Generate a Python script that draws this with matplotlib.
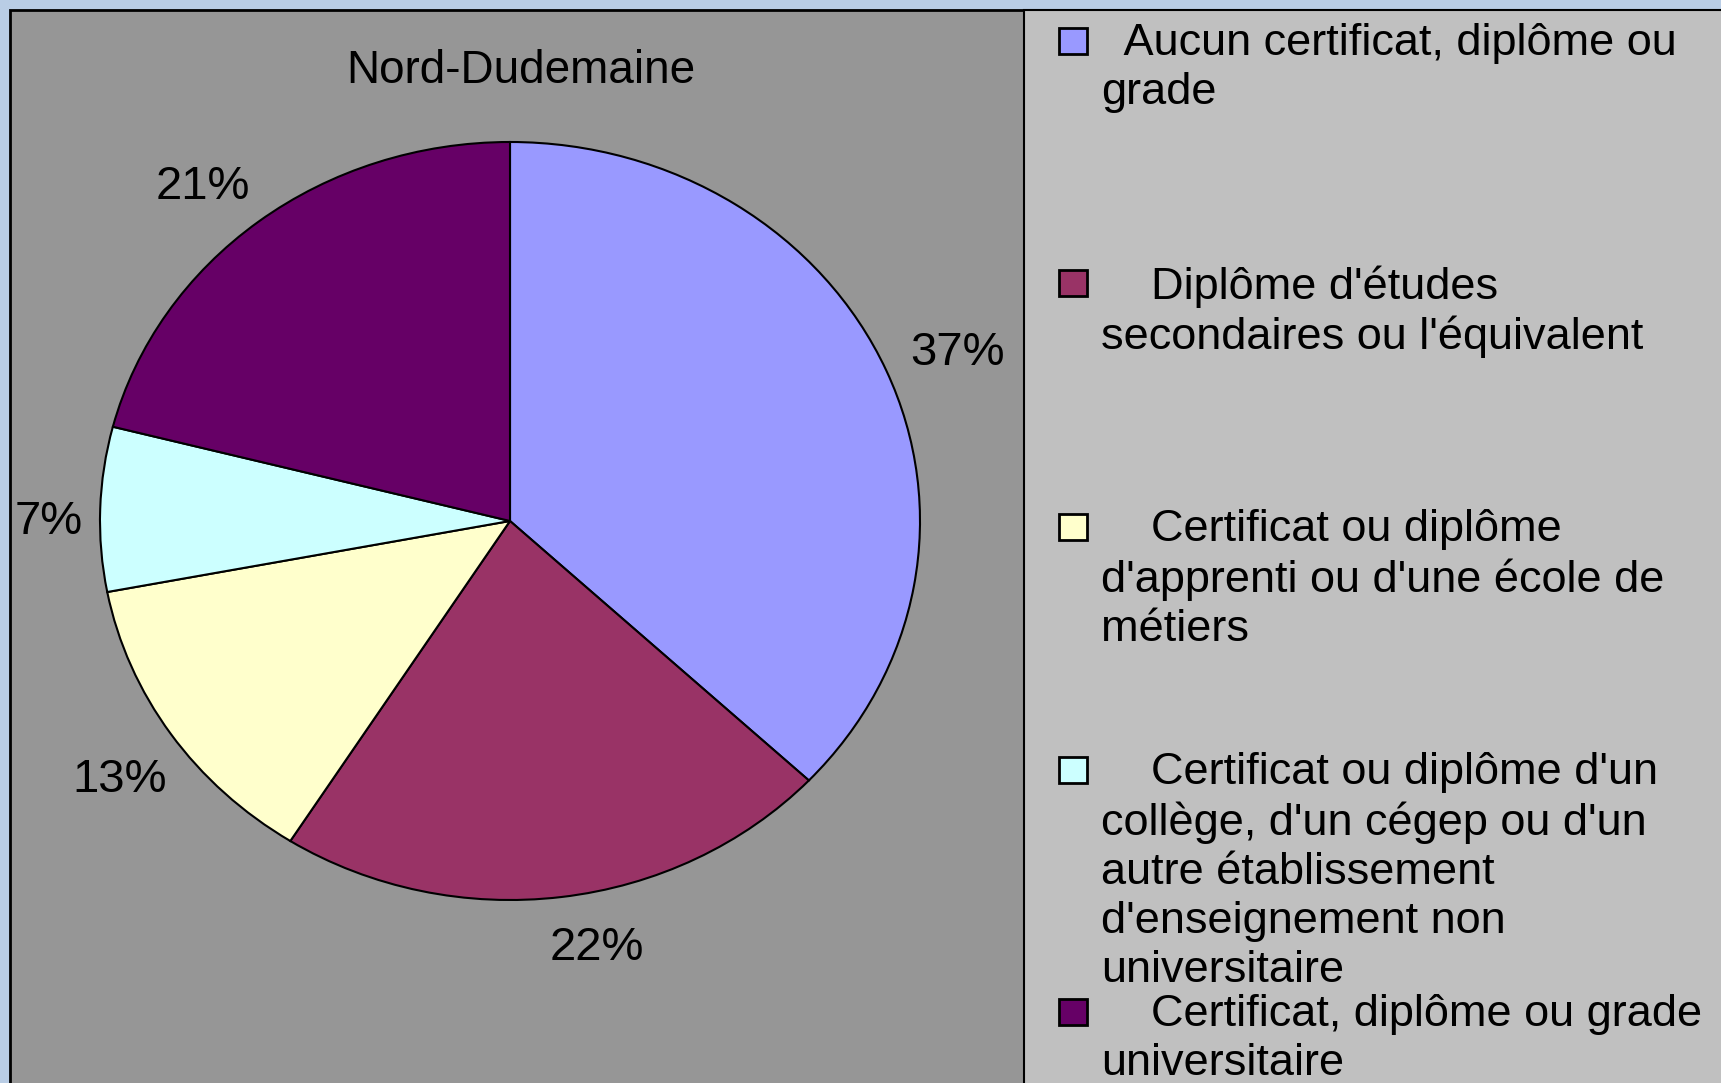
import matplotlib
matplotlib.use('Agg')
import matplotlib.pyplot as plt
from matplotlib.patches import Rectangle

plt.rcParams['font.family'] = ['Liberation Sans', 'DejaVu Sans']

# data
title = 'Nord-Dudemaine'
categories = [
    '  Aucun certificat, diplôme ou\ngrade',
    "    Diplôme d'études\nsecondaires ou l'équivalent",
    "    Certificat ou diplôme\nd'apprenti ou d'une école de\nmétiers",
    "    Certificat ou diplôme d'un\ncollège, d'un cégep ou d'un\nautre établissement\nd'enseignement non\nuniversitaire",
    '    Certificat, diplôme ou grade\nuniversitaire',
]
values = [37, 22, 13, 7, 21]
colors = ['#9999ff', '#993366', '#ffffcc', '#ccffff', '#660066']

# small label nudges (layout only) to mimic the Excel placement
label_nudge = [(0.037, 0.012), (0.067, 0.038), (0.0, -0.012), (0.024, -0.014), (-0.045, -0.003)]

W, H = 1721, 1083
fig = plt.figure(figsize=(W / 100, H / 100), dpi=100, facecolor='#b9cde5')

# background panels, pixel coords
bg = fig.add_axes([0, 0, 1, 1])
bg.set_xlim(0, W)
bg.set_ylim(H, 0)
bg.axis('off')
bg.add_patch(Rectangle((10, 10), W, H, facecolor='#969696', edgecolor='black', lw=2))
bg.add_patch(Rectangle((1024, 10), W, H, facecolor='#c0c0c0', edgecolor='black', lw=1.5))
bg.text(521, 71, title, ha='center', va='center', fontsize=33)

# legend
first_line = [41, 283, 527, 770, 1012]
for lab, col, yc in zip(categories, colors, first_line):
    bg.add_patch(Rectangle((1059, yc - 13), 28, 26, facecolor=col, edgecolor='black', lw=2))
    bg.text(1101, yc - 18, lab, ha='left', va='top', fontsize=32.5, linespacing=1.25)

# pie (elliptical, as in the original)
cx, cy, rx, ry = 510, 521, 410, 379
ax = fig.add_axes([(cx - rx) / W, (H - cy - ry) / H, 2 * rx / W, 2 * ry / H])
wedges, texts, autotexts = ax.pie(
    values, colors=colors, startangle=90, counterclock=False,
    autopct=lambda p: f'{p:.0f}%', pctdistance=1.15,
    wedgeprops=dict(edgecolor='black', linewidth=1.5),
    textprops=dict(fontsize=34))
for t, (dx, dy) in zip(autotexts, label_nudge):
    x, y = t.get_position()
    t.set_position((x + dx, y - 0.025 + dy))
ax.set_aspect('auto')
ax.set_xlim(-1, 1)
ax.set_ylim(-1, 1)

fig.savefig('out.png', dpi=100, facecolor=fig.get_facecolor())
